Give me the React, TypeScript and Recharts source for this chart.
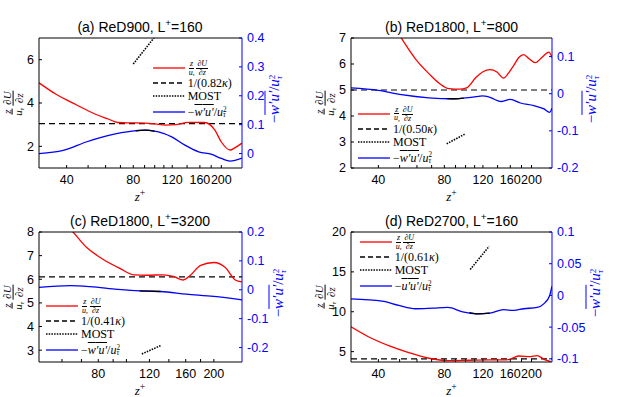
import React from 'react'
import { LineChart, Line, XAxis, YAxis, ReferenceLine } from 'recharts'

const RED = '#ff0000'
const BLUE = '#0000ff'
const SANS = "'Liberation Sans', Arial, sans-serif"
const SERIF = "'Liberation Serif', 'Times New Roman', serif"

// (a) ReD900, L+=160  -- [z+, value]
const redA = [[30, 4.93], [36, 4.39], [44, 3.93], [54, 3.48], [62, 3.25], [68, 3.1], [75, 3.08], [82, 3.08], [100, 3.04], [112, 2.98], [124, 3.0], [142, 3.11], [168, 3.1], [187, 2.75], [200, 2.2], [219, 1.83], [230, 1.93], [248, 2.15]]
const blueA = [[30, 0.0], [38.6, 0.011], [49, 0.04], [62, 0.063], [79, 0.078], [91, 0.081], [104, 0.075], [120, 0.057], [137, 0.029], [158, 0.006], [181, -0.003], [200, -0.017], [219, -0.026], [248, -0.016]]
const blackA = [[82, 0.079], [91, 0.081], [100, 0.077]]
const mostA = [[80, 5.8], [100, 7.05]]

// (b) ReD1800, L+=800
const redB = [[40, 8.6], [45, 7.7], [50.5, 7.04], [59, 6.2], [68, 5.63], [76, 5.25], [84, 5.05], [94, 5.03], [101, 5.08], [112, 5.5], [120, 5.7], [129, 5.78], [139, 5.69], [149, 5.46], [157, 5.65], [166, 5.95], [175, 6.25], [184, 6.36], [195, 6.2], [208, 6.05], [224, 6.27], [240, 6.46], [248, 6.25]]
const blueB = [[30, 0.0155], [40, 0.009], [51, -0.0025], [68, -0.011], [87, -0.0135], [108, -0.009], [120, -0.006], [132, -0.012], [139, -0.018], [146, -0.021], [160, -0.015], [178, -0.025], [205, -0.032], [228, -0.041], [242, -0.05], [248, -0.039]]
const blackB = [[82, -0.013], [90, -0.0135], [98, -0.012]]
const mostB = [[82, 2.93], [99, 3.3]]

// (c) ReD1800, L+=3200
const redC = [[50, 9.3], [58, 8.6], [65, 8.04], [73, 7.34], [83, 6.85], [95, 6.46], [106, 6.19], [118, 6.17], [134, 6.19], [145, 6.12], [157, 5.97], [166, 6.17], [180, 6.59], [200, 6.71], [219, 6.5], [237, 5.97], [250, 5.89]]
const blueC = [[50, 0.0085], [64, 0.0143], [75, 0.011], [93, 0.0017], [111, -0.004], [131, -0.006], [161, -0.015], [200, -0.023], [250, -0.035]]
const blackC = [[111, -0.004], [121, -0.005], [131, -0.006]]
const mostC = [[113, 2.84], [131, 3.19]]

// (d) ReD2700, L+=160
const redD = [[30, 8.11], [36, 6.87], [44.6, 5.75], [55, 4.88], [68, 4.17], [84, 3.88], [104, 3.92], [129, 3.96], [154, 3.96], [175, 4.45], [198, 4.38], [212, 4.5], [228, 4.04], [245, 3.75]]
const blueD = [[30, -0.0053], [41.6, -0.009], [49.6, -0.0158], [59, -0.021], [71, -0.02], [83, -0.019], [97, -0.026], [112, -0.029], [129, -0.028], [149, -0.0225], [166, -0.0236], [184, -0.021], [212, -0.019], [228, -0.013], [242, 0.0], [248, 0.0146]]
const blackD = [[104, -0.027], [115, -0.029], [129, -0.028]]
const mostD = [[105, 15.3], [128, 18.2]]

const xTicksWide = [40, 50, 60, 70, 80, 90, 100, 110, 120, 140, 160, 180, 200]
const xTicksNarrow = [60, 70, 80, 90, 100, 120, 140, 160, 180, 200]
const xLabelsWide = [40, 80, 120, 160, 200]
const xLabelsNarrow = [80, 120, 160, 200]

const panels = [
  {
    tag: '(a)', re: 'ReD900', lp: '160', box: { x: 38.5, y: 38, w: 203, h: 130 },
    xDomain: [30, 248], xTicks: xTicksWide, xLabels: xLabelsWide,
    leftDomain: [1, 7], leftTicks: [2, 4, 6], rightDomain: [-0.05, 0.4], rightTicks: [0, 0.1, 0.2, 0.3, 0.4],
    red: redA, blue: blueA, black: blackA, most: mostA, refY: 3.05, kappa: '0.82',
    legend: { x: 152.7, y: 68.3 }, rDx: 32, uvar: 'w',
  },
  {
    tag: '(b)', re: 'ReD1800', lp: '800', box: { x: 351, y: 38, w: 201, h: 130 },
    xDomain: [30, 248], xTicks: xTicksWide, xLabels: xLabelsWide,
    leftDomain: [2, 7], leftTicks: [2, 3, 4, 5, 6, 7], rightDomain: [-0.2, 0.15], rightTicks: [-0.2, -0.1, 0, 0.1],
    red: redB, blue: blueB, black: blackB, most: mostB, refY: 5.0, kappa: '0.50',
    legend: { x: 358, y: 114 }, rDx: 39, uvar: 'w',
  },
  {
    tag: '(c)', re: 'ReD1800', lp: '3200', box: { x: 38.5, y: 232, w: 203, h: 130 },
    xDomain: [50, 250], xTicks: xTicksNarrow, xLabels: xLabelsNarrow,
    leftDomain: [2.5, 8], leftTicks: [3, 4, 5, 6, 7, 8], rightDomain: [-0.25, 0.2], rightTicks: [-0.2, -0.1, 0, 0.1, 0.2],
    red: redC, blue: blueC, black: blackC, most: mostC, refY: 6.1, kappa: '0.41',
    legend: { x: 46, y: 306.3 }, rDx: 36, uvar: 'w',
  },
  {
    tag: '(d)', re: 'ReD2700', lp: '160', box: { x: 351, y: 232, w: 201, h: 130 },
    xDomain: [30, 248], xTicks: xTicksWide, xLabels: xLabelsWide,
    leftDomain: [3.7, 20], leftTicks: [5, 10, 15, 20], rightDomain: [-0.105, 0.1], rightTicks: [-0.1, -0.05, 0, 0.05, 0.1],
    red: redD, blue: blueD, black: blackD, most: mostD, refY: 4.1, kappa: '0.61',
    legend: { x: 359.7, y: 242.3 }, rDx: 43, uvar: 'u',
  },
]

const toPts = (arr: number[][]) => arr.map(([z, v]) => ({ z, v }))

function Frac({ n, d, size }: { n: React.ReactNode; d: React.ReactNode; size: number }) {
  return (
    <span style={{ display: 'inline-flex', flexDirection: 'column', alignItems: 'center', verticalAlign: 'middle', fontSize: size, lineHeight: 0.95, margin: '0 1px' }}>
      <span style={{ borderBottom: '0.7px solid currentColor', padding: '0 1px' }}>{n}</span>
      <span>{d}</span>
    </span>
  )
}

function UTau({ sq }: { sq?: boolean }) {
  return (
    <span>
      <i>u</i>
      <span style={{ display: 'inline-flex', flexDirection: 'column', verticalAlign: 'middle', fontSize: '0.6em', lineHeight: 0.75 }}>
        <span>{sq ? '2' : '\u00a0'}</span>
        <i>τ</i>
      </span>
    </span>
  )
}

function GradLabel({ size }: { size: number }) {
  return (
    <span style={{ fontFamily: SERIF, whiteSpace: 'nowrap' }}>
      <Frac n={<i>z</i>} d={<UTau />} size={size} />
      <Frac n={<i>∂U</i>} d={<i>∂z</i>} size={size} />
    </span>
  )
}

function StressLabel({ v }: { v: string }) {
  return (
    <span style={{ fontFamily: SERIF, whiteSpace: 'nowrap' }}>
      −<i style={{ textDecoration: 'overline' }}>{v}′u′</i>/<UTau sq />
    </span>
  )
}

const legendRows = [0, 15, 28, 44]

function Legend({ p }: { p: any }) {
  const items = [
    { stroke: RED, dash: undefined, label: <GradLabel size={8} /> },
    { stroke: '#000', dash: '5 3', label: <span>1/({p.kappa}<i>κ</i>)</span> },
    { stroke: '#000', dash: '1.5 1.2', label: <span>MOST</span> },
    { stroke: BLUE, dash: undefined, label: <StressLabel v={p.uvar} /> },
  ]
  return (
    <>
      {items.map((it, i) => (
        <div key={i} style={{ position: 'absolute', left: p.legend.x, top: p.legend.y + legendRows[i] - 7, height: 14, display: 'flex', alignItems: 'center', fontFamily: SERIF, fontSize: 12, lineHeight: '13px', whiteSpace: 'nowrap' }}>
          <svg width={32} height={14} style={{ display: 'block' }}>
            <line x1={0} x2={32} y1={7} y2={7} stroke={it.stroke} strokeWidth={1.3} strokeDasharray={it.dash} />
          </svg>
          <span style={{ marginLeft: 3 }}>{it.label}</span>
        </div>
      ))}
    </>
  )
}

function Panel({ p }: { p: any }) {
  const { box } = p
  const LW = 40
  const RW = 64
  const TOP = 14
  const BOT = 30
  const cx = box.x + box.w / 2
  const cy = box.y + box.h / 2
  return (
    <>
      <div style={{ position: 'absolute', left: box.x - LW, top: box.y - TOP }}>
        <LineChart width={LW + box.w + RW} height={TOP + box.h + BOT} margin={{ top: TOP - 2, right: 0, bottom: 0, left: 0 }}>
          <XAxis
            xAxisId={0} type="number" dataKey="z" scale="log" domain={p.xDomain} allowDataOverflow
            ticks={p.xTicks} interval={0} height={BOT} tickSize={-3} tickMargin={10}
            tickFormatter={(t: number) => (p.xLabels.includes(t) ? String(t) : '')}
            axisLine={{ stroke: '#000' }} tickLine={{ stroke: '#000' }}
            tick={{ fontSize: 12.5, fill: '#000', fontFamily: SANS }}
          />
          <XAxis
            xAxisId="top" orientation="top" type="number" dataKey="z" scale="log" domain={p.xDomain} allowDataOverflow
            ticks={p.xTicks} interval={0} height={2} tickSize={-3} tick={false}
            axisLine={{ stroke: '#000' }} tickLine={{ stroke: '#000' }}
          />
          <YAxis
            yAxisId="left" type="number" domain={p.leftDomain} allowDataOverflow ticks={p.leftTicks} interval={0}
            width={LW} tickSize={-3} tickMargin={8}
            axisLine={{ stroke: '#000' }} tickLine={{ stroke: '#000' }}
            tick={{ fontSize: 12.5, fill: '#000', fontFamily: SANS }}
          />
          <YAxis
            yAxisId="right" orientation="right" type="number" domain={p.rightDomain} allowDataOverflow ticks={p.rightTicks} interval={0}
            width={RW} tickSize={-3} tickMargin={8} tickFormatter={(t: number) => String(t)}
            axisLine={{ stroke: BLUE }} tickLine={{ stroke: BLUE }}
            tick={{ fontSize: 12.5, fill: BLUE, fontFamily: SANS }}
          />
          <ReferenceLine yAxisId="left" y={p.refY} stroke="#000" strokeDasharray="6 4" strokeWidth={1.2} />
          <Line yAxisId="left" data={toPts(p.red)} dataKey="v" type="monotone" stroke={RED} strokeWidth={1.3} dot={false} activeDot={false} isAnimationActive={false} />
          <Line yAxisId="right" data={toPts(p.blue)} dataKey="v" type="monotone" stroke={BLUE} strokeWidth={1.3} dot={false} activeDot={false} isAnimationActive={false} />
          <Line yAxisId="right" data={toPts(p.black)} dataKey="v" type="monotone" stroke="#000" strokeWidth={1.3} dot={false} activeDot={false} isAnimationActive={false} />
          <Line yAxisId="left" data={toPts(p.most)} dataKey="v" type="linear" stroke="#000" strokeWidth={1.6} strokeDasharray="1.5 1.2" dot={false} activeDot={false} isAnimationActive={false} />
        </LineChart>
      </div>
      <div style={{ position: 'absolute', left: cx - 110, width: 220, top: box.y - 19, lineHeight: '16px', textAlign: 'center', fontFamily: SANS, fontSize: 14, whiteSpace: 'nowrap' }}>
        {p.tag} {p.re}, L<span style={{ fontSize: '70%', verticalAlign: 'super', lineHeight: 0 }}>+</span>=
        {p.lp}
      </div>
      <div style={{ position: 'absolute', left: cx, top: box.y + box.h + 29, transform: 'translate(-50%,-50%)', fontFamily: SERIF, fontSize: 13, whiteSpace: 'nowrap' }}>
        <i>z</i>
        <span style={{ fontSize: '75%', verticalAlign: 'super', lineHeight: 0 }}>+</span>
      </div>
      <div style={{ position: 'absolute', left: box.x - 26, top: cy, transform: 'translate(-50%,-50%) rotate(-90deg)' }}>
        <GradLabel size={11} />
      </div>
      <div style={{ position: 'absolute', left: box.x + box.w + p.rDx, top: cy - 4, transform: 'translate(-50%,-50%) rotate(-90deg)', color: BLUE, fontSize: 15 }}>
        <StressLabel v="w" />
      </div>
      <Legend p={p} />
    </>
  )
}

export default function App() {
  return (
    <div style={{ position: 'absolute', left: 0, top: 0, width: 628, height: 397, background: '#fff', overflow: 'hidden' }}>
      {panels.map((p) => (
        <Panel key={p.tag} p={p} />
      ))}
    </div>
  )
}
